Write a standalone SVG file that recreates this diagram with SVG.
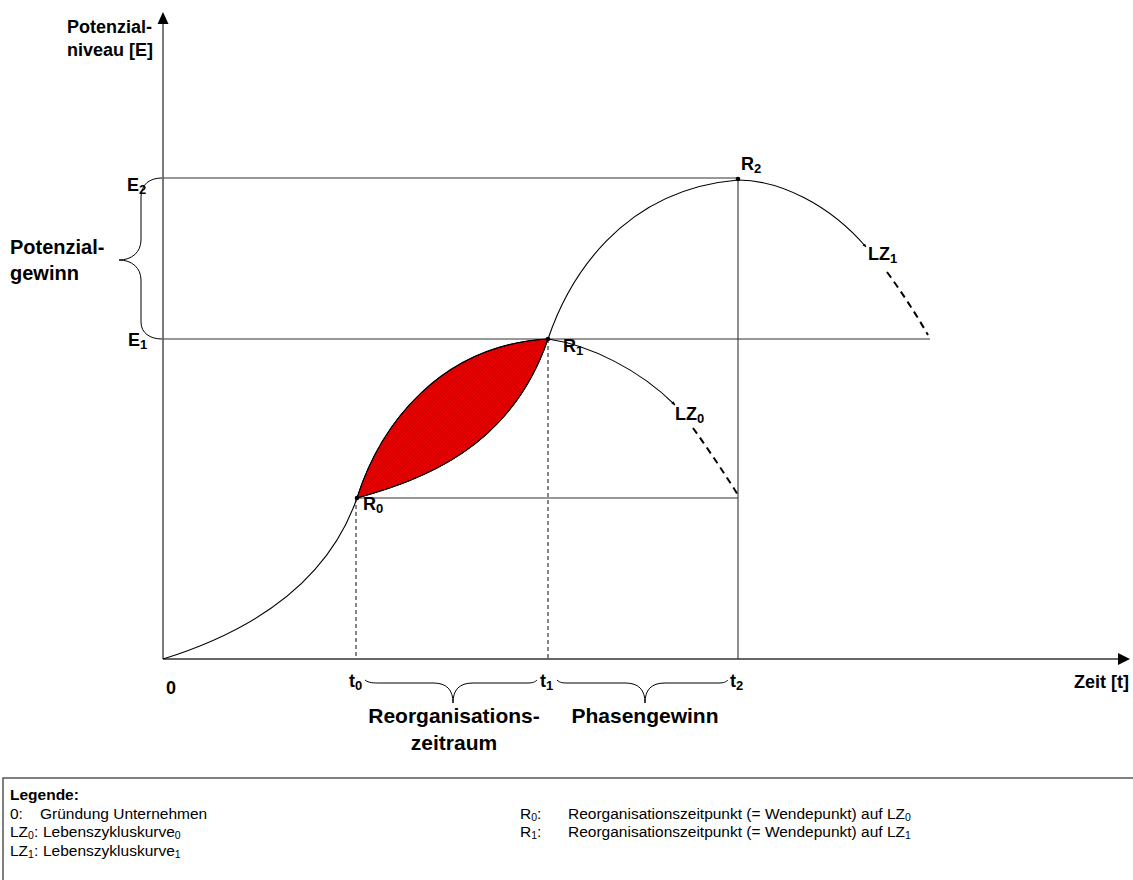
<svg xmlns="http://www.w3.org/2000/svg" width="1133" height="880" viewBox="0 0 1133 880">
<style>
.ax{stroke:#333;stroke-width:1.3;fill:none}
.gl{stroke:#333;stroke-width:1.1;fill:none}
.dl{stroke:#222;stroke-width:1.1;fill:none;stroke-dasharray:4 3}
.cv{stroke:#000;stroke-width:1.1;fill:none}
.cd{stroke:#000;stroke-width:2;fill:none;stroke-dasharray:7 5}
.br{stroke:#000;stroke-width:1;fill:none}
.b{font-family:"Liberation Sans",Arial,sans-serif;font-weight:bold;fill:#000}
.r{font-family:"Liberation Sans",Arial,sans-serif;fill:#000}
</style>
<defs>
<pattern id="hatch" width="2.5" height="2.5" patternUnits="userSpaceOnUse" patternTransform="rotate(45)">
<rect width="2.5" height="2.5" fill="#ee0000"/>
<line x1="0" y1="0" x2="0" y2="2.5" stroke="#8a0000" stroke-width="0.7"/>
</pattern>
<marker id="tip" viewBox="0 0 10 10" refX="9" refY="5" markerWidth="4" markerHeight="4" orient="auto" markerUnits="userSpaceOnUse">
<path d="M0,1 L10,5 L0,9 z" fill="#000"/>
</marker>
</defs>
<rect width="1133" height="880" fill="#fff"/>

<g id="area">
<path d="M357,498 C380,425 440,345 548,339 C510,450 420,480 357,498 Z" fill="url(#hatch)" stroke="#000" stroke-width="1"/>
</g>

<g id="guides">
<line class="gl" x1="163" y1="178" x2="738" y2="178"/>
<line class="gl" x1="163" y1="339" x2="930" y2="339"/>
<line class="gl" x1="357" y1="498" x2="738" y2="498"/>
<line class="gl" x1="738" y1="178" x2="738" y2="659"/>
<line class="dl" x1="548" y1="339" x2="548" y2="659"/>
<line class="dl" x1="356" y1="498" x2="356" y2="659"/>
</g>

<g id="axes">
<line class="ax" x1="163" y1="659" x2="163" y2="22"/>
<path d="M163,12 L157.5,24 L168.5,24 Z" fill="#000"/>
<line class="ax" x1="163" y1="659" x2="1120" y2="659"/>
<path d="M1130,659 L1118,653 L1118,665 Z" fill="#000"/>
</g>

<g id="connectors">
<path id="lz0-a" class="cv" d="M163,659 C240,635 325,590 357,498 C380,425 440,345 548,339"/>
<path id="lz0-b" class="cv" d="M548,339 C590,345 640,370 675,405" marker-end="url(#tip)"/>
<path id="lz0-c" class="cd" d="M693,428 Q716,460 738,495"/>
<path id="lz1-a" class="cv" d="M357,498 C420,480 510,450 548,339 C568,280 620,190 738,180"/>
<path id="lz1-b" class="cv" d="M738,180 C780,180 830,205 866,247" marker-end="url(#tip)"/>
<path id="lz1-c" class="cd" d="M887,272 Q909,302 928,335"/>
<circle cx="357" cy="498" r="2.3" fill="#000"/>
<circle cx="548" cy="339" r="2.3" fill="#000"/>
<circle cx="738" cy="179" r="2.3" fill="#000"/>
<path class="br" d="M162,178 C150,178 141,184 141,197 L141,240 C141,252 132,260 119,260 C132,260 141,268 141,280 L141,322 C141,333 150,339 162,339"/>
<path class="br" d="M365,680 C369,683 373,683 380,683 L433,683 C447,683 453,690 453,703 C453,690 459,683 473,683 L527,683 C533,683 535,682 537,680"/>
<path class="br" d="M557,680 C560,683 563,683 569,683 L625,683 C639,683 645,690 645,703 C645,690 651,683 665,683 L718,683 C724,683 726,682 728,680"/>
</g>

<g id="labels">
<text class="b" x="67" y="33" font-size="18">Potenzial-</text>
<text class="b" x="67" y="56" font-size="18">niveau [E]</text>
<text class="b" x="1074" y="688" font-size="18">Zeit [t]</text>
<text class="b" x="10" y="254" font-size="20">Potenzial-</text>
<text class="b" x="10" y="280" font-size="20">gewinn</text>
<text class="b" x="127" y="191" font-size="18">E<tspan font-size="13" dy="3">2</tspan></text>
<text class="b" x="128" y="346" font-size="18">E<tspan font-size="13" dy="3">1</tspan></text>
<text class="b" x="166" y="694" font-size="18">0</text>
<text class="b" x="349" y="687" font-size="18">t<tspan font-size="13" dy="3">0</tspan></text>
<text class="b" x="540" y="687" font-size="18">t<tspan font-size="13" dy="3">1</tspan></text>
<text class="b" x="730" y="687" font-size="18">t<tspan font-size="13" dy="3">2</tspan></text>
<text class="b" x="363" y="510" font-size="18">R<tspan font-size="13" dy="3">0</tspan></text>
<text class="b" x="563" y="352" font-size="18">R<tspan font-size="13" dy="3">1</tspan></text>
<text class="b" x="741" y="170" font-size="18">R<tspan font-size="13" dy="3">2</tspan></text>
<text class="b" x="675" y="420" font-size="18">LZ<tspan font-size="13" dy="3">0</tspan></text>
<text class="b" x="868" y="260" font-size="18">LZ<tspan font-size="13" dy="3">1</tspan></text>
<text class="b" x="454" y="723" font-size="21" text-anchor="middle">Reorganisations-</text>
<text class="b" x="454" y="750" font-size="21" text-anchor="middle">zeitraum</text>
<text class="b" x="645" y="723" font-size="21" text-anchor="middle">Phasengewinn</text>
</g>

<g id="legend">
<rect x="3" y="778" width="1140" height="120" fill="none" stroke="#555" stroke-width="1.5"/>
<text class="b" x="10" y="800" font-size="15.5">Legende:</text>
<text class="r" x="10" y="819" font-size="15.5">0:</text>
<text class="r" x="40" y="819" font-size="15.5">Gründung Unternehmen</text>
<text class="r" x="10" y="837" font-size="15.5">LZ<tspan font-size="10.5" dy="2">0</tspan><tspan dy="-2">:</tspan></text>
<text class="r" x="43" y="837" font-size="15.5">Lebenszykluskurve<tspan font-size="10.5" dy="2">0</tspan></text>
<text class="r" x="10" y="856" font-size="15.5">LZ<tspan font-size="10.5" dy="2">1</tspan><tspan dy="-2">:</tspan></text>
<text class="r" x="43" y="856" font-size="15.5">Lebenszykluskurve<tspan font-size="10.5" dy="2">1</tspan></text>
<text class="r" x="520" y="819" font-size="15.5">R<tspan font-size="10.5" dy="2">0</tspan><tspan dy="-2">:</tspan></text>
<text class="r" x="568" y="819" font-size="15.5">Reorganisationszeitpunkt (= Wendepunkt) auf LZ<tspan font-size="10.5" dy="2">0</tspan></text>
<text class="r" x="520" y="837" font-size="15.5">R<tspan font-size="10.5" dy="2">1</tspan><tspan dy="-2">:</tspan></text>
<text class="r" x="568" y="837" font-size="15.5">Reorganisationszeitpunkt (= Wendepunkt) auf LZ<tspan font-size="10.5" dy="2">1</tspan></text>
</g>
</svg>
